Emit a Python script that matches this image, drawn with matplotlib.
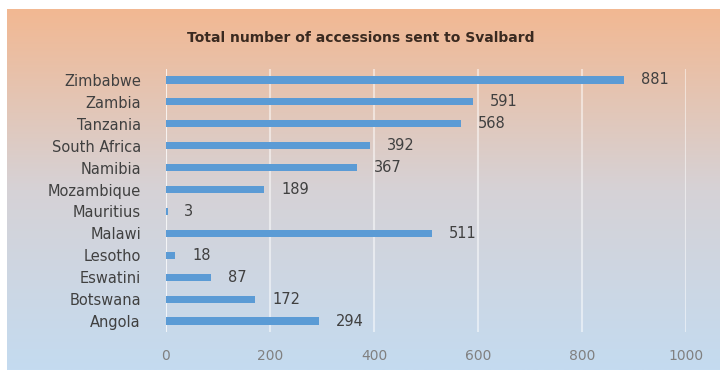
import numpy as np
import matplotlib
matplotlib.use("Agg")
import matplotlib.pyplot as plt
from matplotlib.colors import LinearSegmentedColormap

countries = ["Zimbabwe", "Zambia", "Tanzania", "South Africa", "Namibia", "Mozambique",
             "Mauritius", "Malawi", "Lesotho", "Eswatini", "Botswana", "Angola"]
values = [881, 591, 568, 392, 367, 189, 3, 511, 18, 87, 172, 294]
xticks = [0, 200, 400, 600, 800, 1000]
title = "Total number of accessions sent to Svalbard"

W, H = 722, 372
fig = plt.figure(figsize=(W / 100, H / 100), dpi=100)
fig.patch.set_facecolor("white")

# gradient panel
bg = fig.add_axes([7 / W, 2 / H, 713 / W, 361 / H])
cmap = LinearSegmentedColormap.from_list("g", ["#C4DBF0", "#D6D2D6", "#F2B892"])
grad = np.linspace(0, 1, 256).reshape(-1, 1)
bg.imshow(grad, aspect="auto", cmap=cmap, origin="lower", extent=[0, 1, 0, 1])
bg.set_axis_off()

ax = fig.add_axes([166 / W, 1 - 332 / H, (686 - 166) / W, (332 - 69) / H])
ax.patch.set_alpha(0)
y = np.arange(len(countries))
ax.barh(y, values, height=0.33, color="#5B9BD5", zorder=3)
ax.set_ylim(len(countries) - 0.5, -0.5)
ax.set_xlim(0, 1000)
ax.set_yticks(y)
ax.set_yticklabels(countries, fontsize=10.5, color="#404040")
ax.set_xticks(xticks)
ax.set_xticklabels([str(t) for t in xticks], fontsize=10, color="#808080")
ax.tick_params(axis="both", length=0)
ax.tick_params(axis="y", pad=18)
ax.tick_params(axis="x", pad=12)
for s in ax.spines.values():
    s.set_visible(False)
ax.grid(axis="x", color="white", linewidth=1.5, alpha=0.5, zorder=1)
ax.axvline(0, color="white", linewidth=1.5, alpha=0.5, zorder=1)
for yi, v in zip(y, values):
    ax.annotate(str(v), (v, yi), xytext=(12, 0), textcoords="offset points",
                va="center", ha="left", fontsize=10.5, color="#404040")

fig.text(0.5, 1 - 38 / H, title, ha="center", va="center", fontsize=10,
         fontweight="bold", color="#3a2a20")

fig.savefig("out.png", dpi=100)
